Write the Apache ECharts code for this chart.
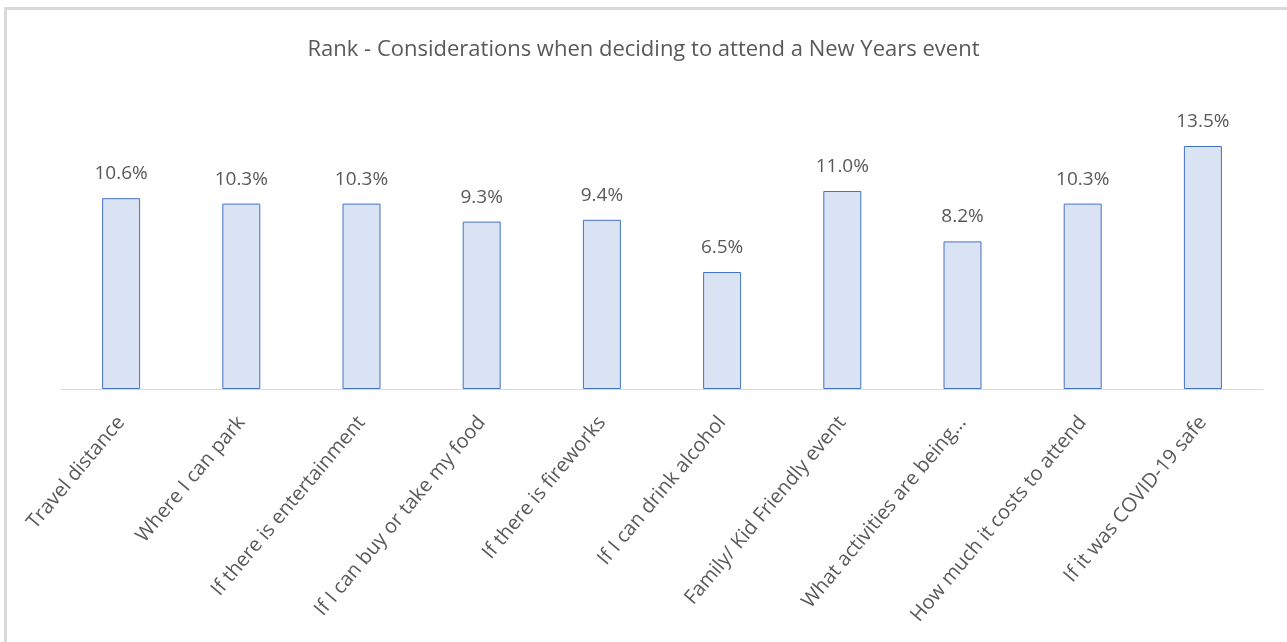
<!DOCTYPE html>
<html>
<head>
<meta charset="utf-8">
<script src="https://cdn.jsdelivr.net/npm/echarts@6/dist/echarts.min.js"></script>
<style>
html,body{margin:0;padding:0;background:#fff;}
#chart{width:1287px;height:642px;}
</style>
</head>
<body>
<div id="chart"></div>
<script>
const titleText = 'Rank - Considerations when deciding to attend a New Years event';
const categories = [
  'Travel distance',
  'Where I can park',
  'If there is entertainment',
  'If I can buy or take my food',
  'If there is fireworks',
  'If I can drink alcohol',
  'Family/ Kid Friendly event',
  'What activities are being...',
  'How much it costs to attend',
  'If it was COVID-19 safe'
];
const values = [10.6, 10.3, 10.3, 9.3, 9.4, 6.5, 11.0, 8.2, 10.3, 13.5];

const fontFam = '"Open Sans", "Liberation Sans", sans-serif';
const chart = echarts.init(document.getElementById('chart'), null, {renderer: 'canvas'});
chart.setOption({
  animation: false,
  backgroundColor: '#ffffff',
  title: {
    text: titleText,
    left: 'center',
    top: 34,
    textStyle: {fontFamily: fontFam, fontSize: 22, fontWeight: 'normal', color: '#595959'}
  },
  graphic: [
    {type: 'rect', shape: {x: 4, y: 7, width: 1283, height: 3}, style: {fill: '#d9d9d9'}, silent: true},
    {type: 'rect', shape: {x: 4, y: 7, width: 3, height: 635}, style: {fill: '#d9d9d9'}, silent: true}
  ],
  grid: {left: 61, right: 24, top: 101, bottom: 253, containLabel: false},
  xAxis: {
    type: 'category',
    data: categories,
    axisLine: {lineStyle: {color: '#d9d9d9', width: 1}},
    axisTick: {show: false},
    axisLabel: {
      rotate: 50,
      interval: 0,
      margin: 30,
      fontFamily: fontFam,
      fontSize: 20,
      color: '#595959'
    }
  },
  yAxis: {
    type: 'value',
    min: 0,
    max: 16,
    show: false,
    splitLine: {show: false}
  },
  series: [{
    type: 'bar',
    data: values,
    barWidth: 38,
    itemStyle: {color: '#dae3f3', borderColor: '#4472c4', borderWidth: 1},
    label: {
      show: true,
      position: 'top',
      distance: 15,
      formatter: p => p.value.toFixed(1) + '%',
      fontFamily: fontFam,
      fontSize: 19,
      color: '#595959'
    }
  }]
});
</script>
</body>
</html>
